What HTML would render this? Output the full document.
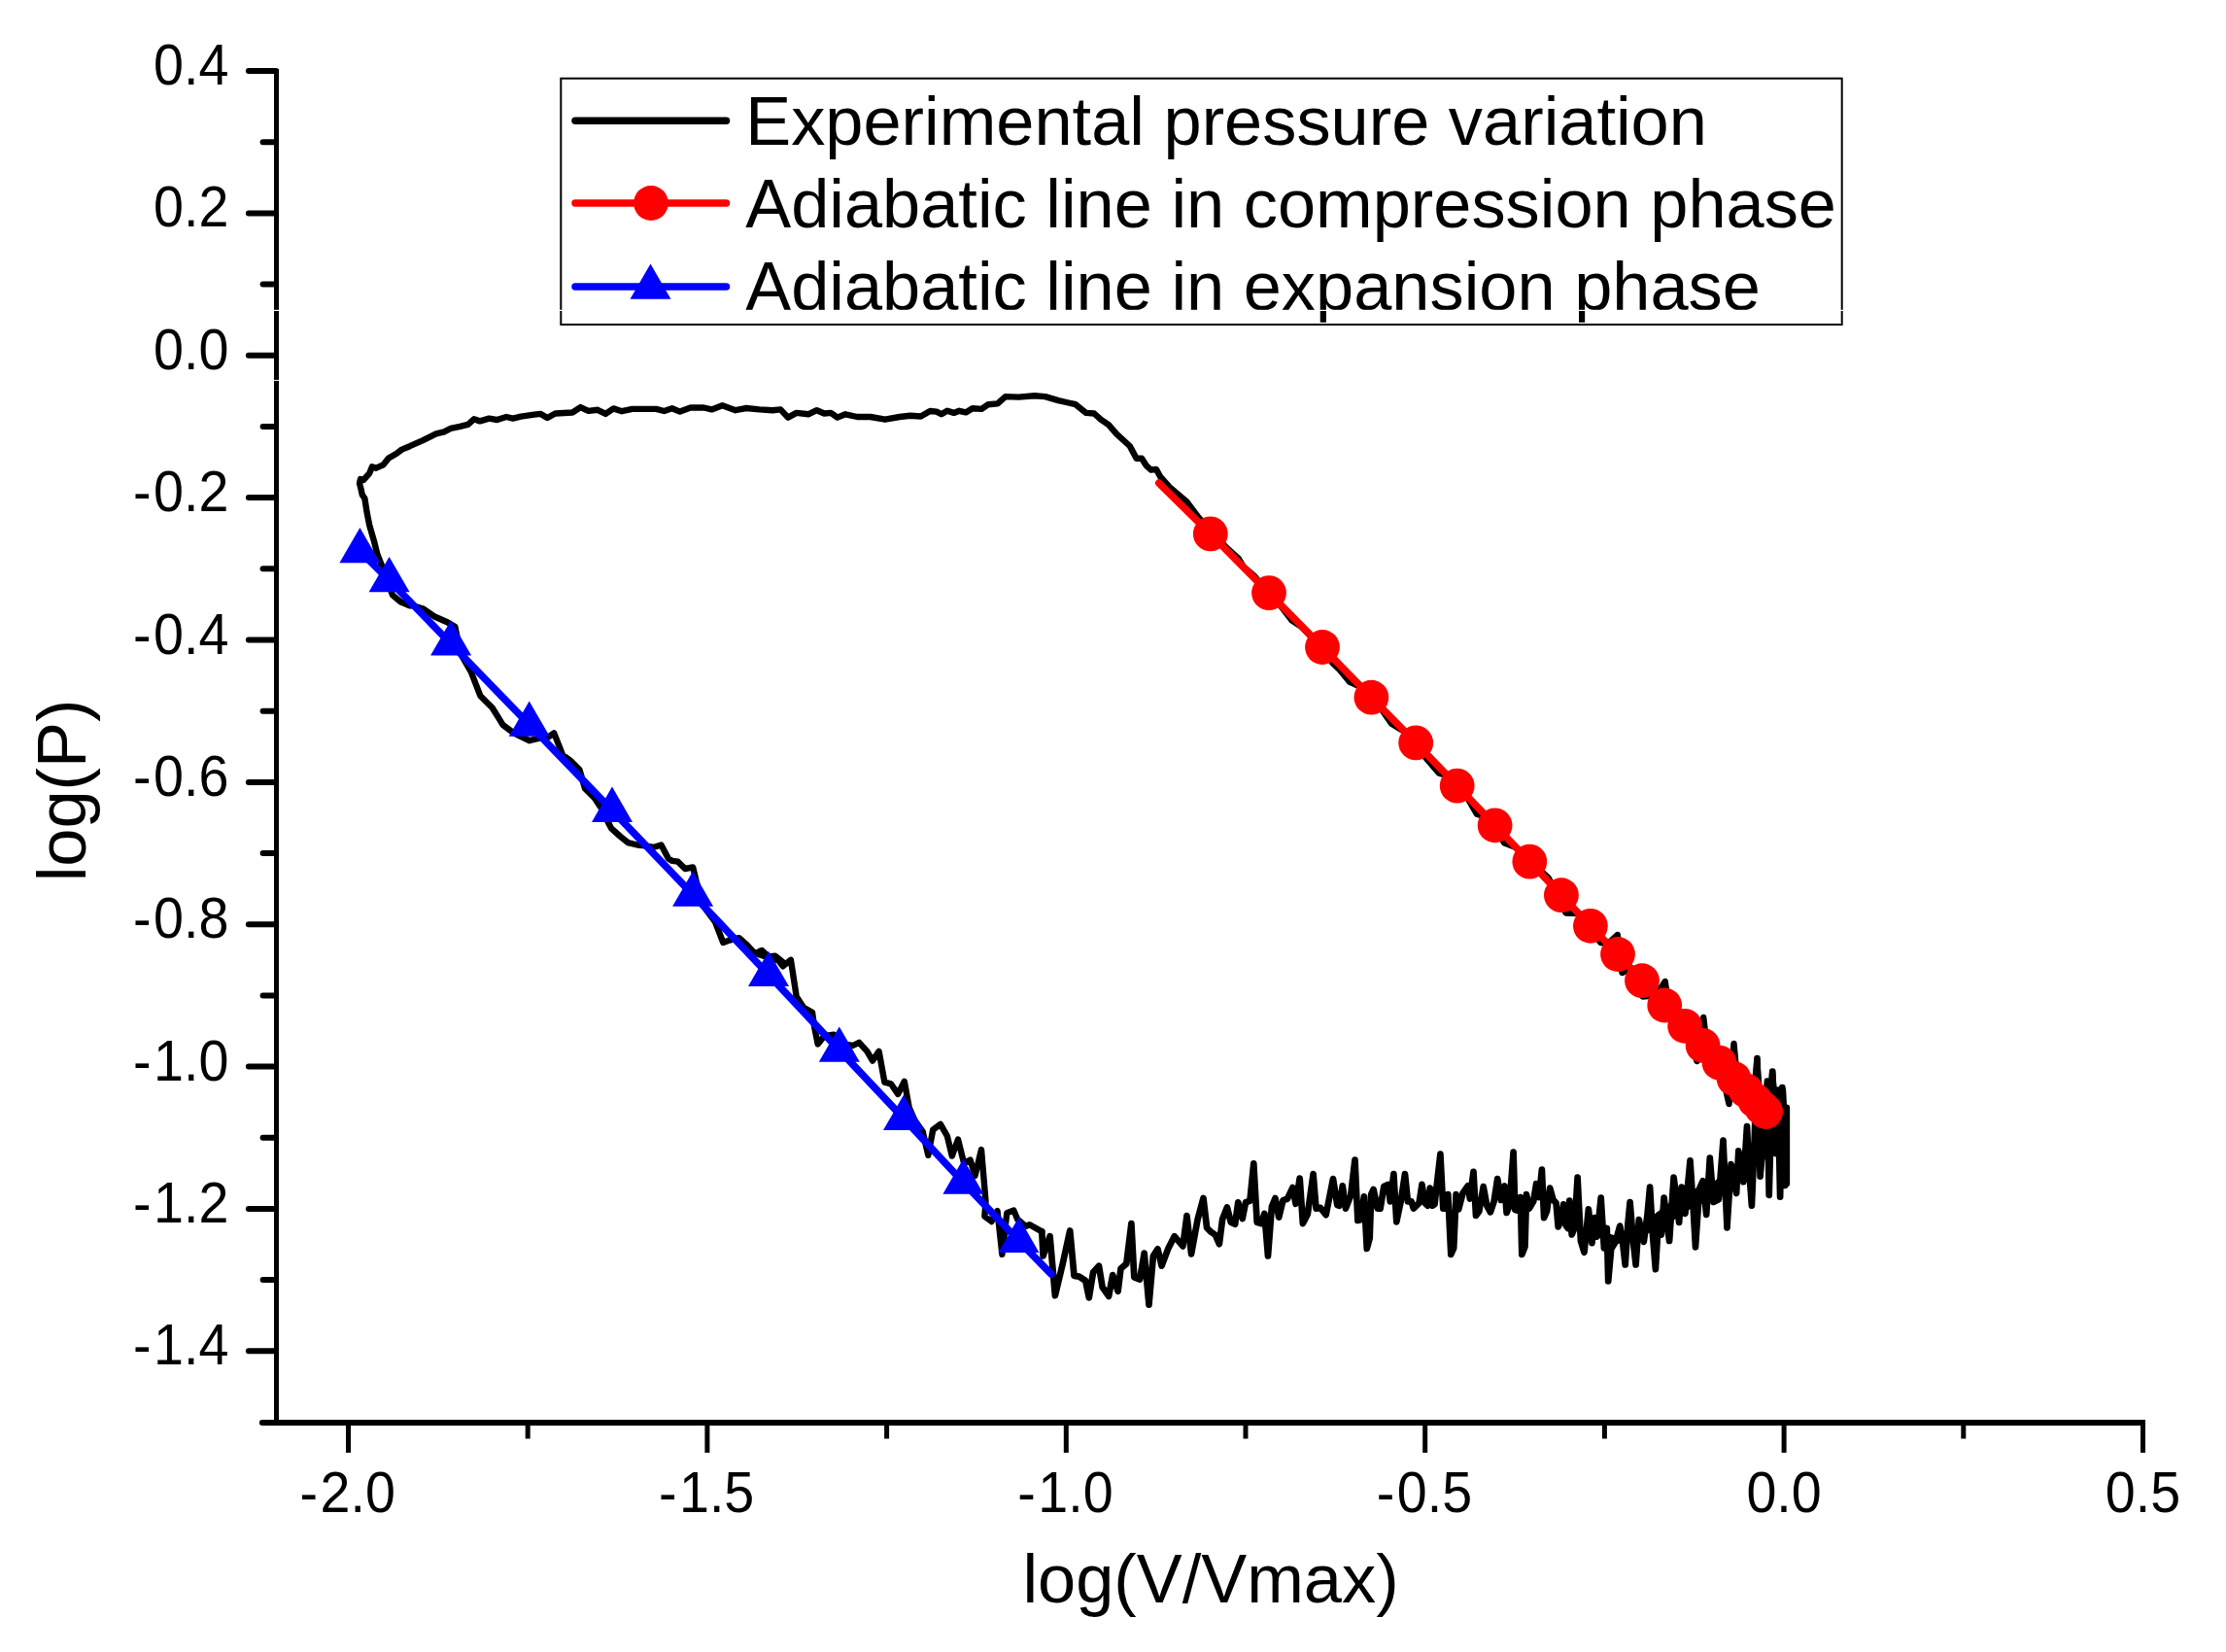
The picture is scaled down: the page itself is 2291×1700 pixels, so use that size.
<!DOCTYPE html>
<html lang="en"><head><meta charset="utf-8"><title>log(P) vs log(V/Vmax)</title>
<style>
html,body{margin:0;padding:0;background:#fff;}
body{width:2291px;height:1700px;overflow:hidden;}
svg{display:block;}
text{font-family:"Liberation Sans",sans-serif;fill:#000;}
.tick{font-size:58.6px;}
.big{font-size:70px;}
</style></head><body>
<svg width="2291" height="1700" viewBox="0 0 2291 1700">
<rect width="2291" height="1700" fill="#fff"/>
<g stroke="#000" fill="none">
<line x1="284.5" y1="71" x2="284.5" y2="1464.0" stroke-width="5"/>
<line x1="269.9" y1="1464.0" x2="2208" y2="1464.0" stroke-width="6"/>
<circle cx="269.9" cy="1464.0" r="3" fill="#000" stroke="none"/>
<g stroke-width="6" stroke-linecap="round">
<line x1="255.9" y1="73.0" x2="284.0" y2="73.0"/>
<line x1="270.6" y1="146.2" x2="284.0" y2="146.2"/>
<line x1="255.9" y1="219.4" x2="284.0" y2="219.4"/>
<line x1="270.6" y1="292.6" x2="284.0" y2="292.6"/>
<line x1="255.9" y1="365.7" x2="284.0" y2="365.7"/>
<line x1="270.6" y1="438.9" x2="284.0" y2="438.9"/>
<line x1="255.9" y1="512.1" x2="284.0" y2="512.1"/>
<line x1="270.6" y1="585.3" x2="284.0" y2="585.3"/>
<line x1="255.9" y1="658.5" x2="284.0" y2="658.5"/>
<line x1="270.6" y1="731.7" x2="284.0" y2="731.7"/>
<line x1="255.9" y1="804.9" x2="284.0" y2="804.9"/>
<line x1="270.6" y1="878.0" x2="284.0" y2="878.0"/>
<line x1="255.9" y1="951.2" x2="284.0" y2="951.2"/>
<line x1="270.6" y1="1024.4" x2="284.0" y2="1024.4"/>
<line x1="255.9" y1="1097.6" x2="284.0" y2="1097.6"/>
<line x1="270.6" y1="1170.8" x2="284.0" y2="1170.8"/>
<line x1="255.9" y1="1244.0" x2="284.0" y2="1244.0"/>
<line x1="270.6" y1="1317.1" x2="284.0" y2="1317.1"/>
<line x1="255.9" y1="1390.3" x2="284.0" y2="1390.3"/>
</g>
<g stroke-width="5">
<line x1="358.5" y1="1464.0" x2="358.5" y2="1494.9"/>
<line x1="543.2" y1="1464.0" x2="543.2" y2="1480.5"/>
<line x1="727.9" y1="1464.0" x2="727.9" y2="1494.9"/>
<line x1="912.6" y1="1464.0" x2="912.6" y2="1480.5"/>
<line x1="1097.3" y1="1464.0" x2="1097.3" y2="1494.9"/>
<line x1="1282.0" y1="1464.0" x2="1282.0" y2="1480.5"/>
<line x1="1466.7" y1="1464.0" x2="1466.7" y2="1494.9"/>
<line x1="1651.4" y1="1464.0" x2="1651.4" y2="1480.5"/>
<line x1="1836.1" y1="1464.0" x2="1836.1" y2="1494.9"/>
<line x1="2020.8" y1="1464.0" x2="2020.8" y2="1480.5"/>
<line x1="2205.5" y1="1464.0" x2="2205.5" y2="1494.9"/>
</g>
</g>
<text class="tick" transform="translate(235.5,87.0) scale(0.95,1)" text-anchor="end">0.4</text>
<text class="tick" transform="translate(235.5,233.4) scale(0.95,1)" text-anchor="end">0.2</text>
<text class="tick" transform="translate(235.5,379.7) scale(0.95,1)" text-anchor="end">0.0</text>
<text class="tick" transform="translate(235.5,526.1) scale(0.95,1)" text-anchor="end" dx="0 2.6">-0.2</text>
<text class="tick" transform="translate(235.5,672.5) scale(0.95,1)" text-anchor="end" dx="0 2.6">-0.4</text>
<text class="tick" transform="translate(235.5,818.9) scale(0.95,1)" text-anchor="end" dx="0 2.6">-0.6</text>
<text class="tick" transform="translate(235.5,965.2) scale(0.95,1)" text-anchor="end" dx="0 2.6">-0.8</text>
<text class="tick" transform="translate(235.5,1111.6) scale(0.95,1)" text-anchor="end" dx="0 2.6">-1.0</text>
<text class="tick" transform="translate(235.5,1258.0) scale(0.95,1)" text-anchor="end" dx="0 2.6">-1.2</text>
<text class="tick" transform="translate(235.5,1404.3) scale(0.95,1)" text-anchor="end" dx="0 2.6">-1.4</text>
<text class="tick" transform="translate(357.7,1556.2) scale(0.95,1)" text-anchor="middle" dx="0 2.6">-2.0</text>
<text class="tick" transform="translate(727.1,1556.2) scale(0.95,1)" text-anchor="middle" dx="0 2.6">-1.5</text>
<text class="tick" transform="translate(1096.5,1556.2) scale(0.95,1)" text-anchor="middle" dx="0 2.6">-1.0</text>
<text class="tick" transform="translate(1465.9,1556.2) scale(0.95,1)" text-anchor="middle" dx="0 2.6">-0.5</text>
<text class="tick" transform="translate(1836.1,1556.2) scale(0.95,1)" text-anchor="middle">0.0</text>
<text class="tick" transform="translate(2205.5,1556.2) scale(0.95,1)" text-anchor="middle">0.5</text>
<text class="big" transform="translate(1246.0,1648.8) scale(1.0055,1)" text-anchor="middle">log(V/Vmax)</text>
<text class="big" transform="translate(88.4,813.5) rotate(-90) scale(1.0055,1)" text-anchor="middle">log(P)</text>
<g fill="none" stroke="#000" stroke-linejoin="round" stroke-linecap="round">
<polyline stroke-width="6.4" points="1837.0,1160.0 1835.0,1122.0 1828.0,1150.0 1824.0,1104.0 1819.0,1165.0 1812.2,1139.8 1808.2,1092.0 1803.0,1150.0 1800.1,1125.9 1788.3,1114.7 1784.5,1074.0 1779.5,1136.0 1770.0,1094.0 1757.3,1081.7 1753.2,1047.0 1746.5,1092.0 1734.9,1056.1 1718.1,1039.9 1713.7,1010.0 1704.7,1024.3 1690.5,1025.5 1679.6,996.4 1669.5,1001.0 1664.7,962.0 1654.9,971.1 1647.4,970.1 1624.9,940.0 1611.5,939.5 1600.4,915.6 1593.4,903.1 1579.5,890.5 1560.1,871.9 1548.5,867.6 1530.1,840.9 1519.9,837.7 1510.5,821.5 1489.9,798.1 1481.0,795.6 1467.5,780.0 1445.2,752.8 1432.3,744.8 1420.3,727.7 1400.2,706.8 1389.2,701.9 1378.5,689.0 1371.2,681.9 1361.4,667.6 1340.3,645.7 1329.8,638.7 1318.3,623.7 1300.0,604.0 1291.4,593.2 1279.8,583.2 1274.6,574.7 1261.3,562.7 1233.5,532.5 1221.3,516.2 1203.6,501.2 1194.0,490.3 1190.0,482.9 1184.5,483.5 1180.0,479.4 1175.1,471.8 1169.6,471.8 1162.8,459.0 1149.2,446.7 1141.0,437.2 1132.9,431.7 1126.1,425.5 1117.9,424.9 1107.0,416.2 1097.5,414.0 1089.3,412.1 1075.7,408.1 1064.8,407.2 1048.4,408.6 1034.8,408.1 1026.7,415.4 1017.1,416.2 1010.3,420.9 1000.8,420.3 994.0,424.4 987.2,422.8 981.7,424.9 974.9,422.8 968.9,426.3 964.0,423.6 957.2,423.0 947.7,428.5 936.8,427.7 925.9,429.0 910.9,431.7 895.9,429.0 882.3,429.0 870.1,426.3 861.9,429.6 855.1,424.9 848.3,425.5 840.6,422.2 831.9,426.3 819.7,424.9 811.0,429.6 803.3,421.4 795.2,422.2 781.5,421.4 767.9,420.0 757.0,422.2 743.4,417.3 732.5,421.4 724.3,419.5 710.7,419.5 699.8,423.6 691.7,420.3 683.5,423.0 675.3,420.9 650.8,420.9 640.0,423.2 631.4,420.4 623.3,425.9 615.1,421.8 605.6,422.9 597.4,419.1 589.2,424.5 571.5,425.5 563.3,430.0 556.5,425.9 549.7,426.6 536.1,428.6 527.9,430.6 521.1,429.0 511.6,432.0 503.4,430.6 493.9,433.4 487.8,431.3 481.6,436.8 473.5,438.8 463.9,440.9 457.1,444.3 448.9,446.3 435.3,453.1 421.7,459.2 413.5,462.6 408.1,466.7 399.9,471.5 394.5,478.3 387.0,481.7 382.9,480.3 380.2,487.2 374.0,494.0 371.0,493.0 370.0,497.4 371.6,503.5 372.7,508.9 375.4,513.0 377.5,526.7 380.2,540.3 384.9,556.6 388.3,570.2 393.1,582.5 398.6,597.5 404.0,612.4 412.2,619.3 421.7,623.3 424.9,623.3 435.8,626.6 446.7,634.2 460.3,640.2 468.4,645.1 473.9,672.4 484.8,691.4 494.3,715.9 506.6,728.2 517.5,745.9 528.4,754.1 544.7,762.2 558.3,759.0 564.5,758.4 570.2,754.3 579.2,777.2 587.4,782.9 596.4,791.9 602.1,811.5 611.9,821.3 618.4,831.1 626.6,847.5 629.1,852.4 638.1,860.5 646.2,867.1 656.0,869.5 664.2,870.4 672.4,872.0 680.5,869.5 687.9,883.4 692.0,885.9 697.7,886.7 705.1,894.0 713.2,892.4 716.5,906.3 721.4,924.3 726.3,935.7 736.1,948.8 744.3,970.0 750.8,967.6 760.6,965.1 768.8,972.5 777.0,981.5 783.5,978.2 790.0,984.7 798.2,983.9 805.6,990.0 778.0,981.2 784.2,978.0 791.1,984.5 797.6,983.7 805.8,994.3 813.9,987.8 819.7,1025.4 827.0,1036.8 836.0,1041.7 838.4,1058.1 841.7,1074.4 848.2,1066.2 858.1,1064.6 867.9,1074.4 877.7,1076.0 884.2,1072.8 892.4,1081.8 898.1,1091.6 904.6,1081.8 910.4,1113.6 916.9,1115.3 924.2,1125.9 930.8,1112.8 935.7,1139.8 941.4,1152.8 949.6,1164.3 955.3,1188.8 960.2,1162.6 967.9,1156.9 974.9,1169.2 979.8,1189.6 986.0,1172.5 992.1,1197.0 998.6,1193.7 1003.5,1210.0 1010.0,1183.1 1014.5,1236.3 1013.4,1251.6 1020.5,1257.0 1026.5,1246.1 1031.4,1290.8 1036.3,1248.3 1043.4,1245.6 1047.2,1254.8 1055.9,1261.9 1059.7,1260.3 1072.3,1267.4"/>
<polyline stroke-width="6.7" points="1072.3,1267.4 1073.6,1292.5 1076.5,1283.8 1080.6,1272.2 1085.9,1333.2 1093.9,1299.8 1101.2,1266.4 1105.5,1312.9 1110.6,1313.6 1117.2,1317.9 1120.8,1335.4 1125.1,1309.2 1131.0,1302.7 1134.6,1324.5 1141.1,1333.9 1145.2,1312.1 1150.6,1328.8 1153.5,1305.6 1159.3,1300.5 1164.4,1259.1 1167.3,1314.3 1173.1,1316.5 1177.7,1289.6 1182.5,1342.6 1186.9,1292.5 1191.5,1285.3 1195.6,1302.7 1202.1,1285.3 1208.7,1272.2 1217.4,1282.4 1221.5,1251.1 1226.1,1290.3 1232.6,1254.8 1238.5,1233.0 1242.1,1263.5 1246.4,1267.8 1250.8,1270.7 1254.9,1280.2 1258.1,1254.8 1262.9,1242.4 1266.8,1257.7 1271.1,1259.8 1274.3,1237.3 1278.7,1254.0 1282.0,1237.3 1286.4,1235.9 1290.3,1197.4 1293.7,1257.7 1298.0,1259.1 1301.4,1248.9 1305.0,1292.5 1308.9,1241.7 1312.5,1233.0 1316.2,1252.6 1320.5,1235.1 1324.9,1233.7 1330.4,1222.1 1333.6,1238.8 1337.7,1212.6 1340.9,1259.1 1345.8,1249.5 1351.6,1208.1 1354.5,1243.6 1358.9,1242.9 1364.7,1250.2 1372.0,1213.1 1376.3,1240.0 1378.5,1240.7 1381.8,1220.4 1385.0,1243.6 1390.1,1230.6 1394.5,1193.5 1397.4,1256.0 1400.3,1255.3 1403.9,1231.3 1406.8,1285.0 1409.7,1274.1 1411.2,1229.1 1413.6,1224.0 1417.7,1243.6 1420.6,1243.6 1424.3,1221.1 1428.6,1218.9 1430.8,1236.4 1434.4,1208.1 1437.3,1257.4 1441.7,1236.4 1446.0,1208.1 1448.9,1236.4 1452.6,1236.4 1454.8,1243.6 1460.6,1237.8 1463.5,1218.9 1466.4,1237.8 1469.3,1240.7 1471.8,1222.6 1474.4,1240.7 1476.5,1239.3 1482.4,1187.7 1485.3,1243.6 1488.2,1243.6 1490.3,1229.1 1493.3,1290.9 1496.2,1284.3 1498.6,1229.1 1501.2,1244.4 1505.6,1227.7 1510.7,1220.4 1512.9,1233.5 1516.5,1205.9 1519.0,1250.9 1522.3,1246.5 1526.7,1221.1 1530.3,1240.7 1533.9,1247.3 1537.6,1236.4 1541.2,1213.1 1544.8,1234.9 1548.5,1220.4 1550.6,1248.0 1553.5,1240.7 1557.6,1185.5 1559.3,1245.1 1562.3,1245.8 1564.9,1232.0 1566.3,1290.9 1569.5,1282.9 1571.0,1229.1 1573.9,1243.6 1578.2,1236.4 1581.1,1218.2 1584.0,1232.0 1586.9,1203.7 1589.1,1253.1 1592.0,1246.5 1595.2,1222.6 1598.6,1234.9 1601.5,1237.8 1603.7,1262.5 1606.6,1255.3 1609.2,1239.3 1611.6,1261.1 1613.8,1264.0 1615.3,1235.7 1617.7,1270.5 1620.4,1264.0 1623.6,1211.7 1626.9,1277.1 1630.5,1288.7 1634.9,1244.4 1638.5,1279.2 1641.4,1253.1 1643.6,1272.7 1647.7,1232.7 1650.9,1284.3 1653.8,1264.0 1655.2,1318.5 1658.2,1285.2 1662.7,1277.9 1667.2,1261.6 1670.0,1277.9 1672.7,1301.5 1675.4,1259.7 1677.6,1237.0 1680.9,1277.9 1683.6,1301.5 1686.8,1255.2 1691.8,1277.9 1695.4,1250.7 1698.1,1221.6 1700.8,1268.8 1703.9,1306.1 1707.2,1250.7 1709.9,1270.6 1712.6,1232.5 1718.1,1277.0 1722.6,1211.6 1725.3,1232.5 1728.1,1257.9 1730.8,1221.6 1734.4,1248.9 1739.5,1194.4 1742.6,1241.6 1745.0,1283.4 1749.0,1223.4 1752.6,1215.3 1756.2,1249.8 1759.8,1191.7 1763.5,1237.0 1768.9,1234.3 1773.5,1173.5 1777.5,1263.4 1781.6,1198.0 1787.1,1228.0 1789.3,1184.4 1794.3,1216.2 1798.0,1159.0 1799.8,1198.0 1802.9,1240.7 1805.6,1176.2 1808.5,1089.1 1811.6,1210.7 1815.2,1169.0 1818.9,1112.7 1820.7,1229.8 1824.3,1102.7 1827.9,1187.1 1829.8,1121.7 1832.1,1231.6 1834.3,1119.0 1837.0,1219.8 1838.8,1139.9 1838.8,1218.0"/>
<polyline stroke-width="17" points="1709.0,1255.2 1730.8,1238.9 1752.6,1228.9 1768.0,1223.4 1786.2,1209.3 1798.0,1198.0 1810.7,1187.1 1821.6,1176.2"/>
<polyline stroke-width="9" points="1650.9,1272.5 1661.8,1276.1 1676.3,1273.4 1694.5,1265.2 1709.0,1255.2"/>
</g>
<polyline fill="none" stroke="#ff0000" stroke-width="7.5" stroke-linecap="round" stroke-linejoin="round" points="1192.7,497.1 1245.8,549.4 1306.0,610.1 1361.0,666.0 1411.4,717.7 1457.2,764.4 1499.7,808.6 1538.6,849.3 1574.3,886.6 1606.9,921.2 1636.9,952.8 1665.0,982.0 1690.0,1009.2 1713.2,1034.5 1734.1,1055.8 1752.6,1075.9 1769.5,1093.6 1784.5,1110.0 1796.8,1122.2 1806.3,1132.6 1813.1,1139.9 1817.2,1144.0"/>
<g fill="#ff0000">
<circle cx="1245.8" cy="549.4" r="17.9"/>
<circle cx="1306.0" cy="610.1" r="17.9"/>
<circle cx="1361.0" cy="666.0" r="17.9"/>
<circle cx="1411.4" cy="717.7" r="17.9"/>
<circle cx="1457.2" cy="764.4" r="17.9"/>
<circle cx="1499.7" cy="808.6" r="17.9"/>
<circle cx="1538.6" cy="849.3" r="17.9"/>
<circle cx="1574.3" cy="886.6" r="17.9"/>
<circle cx="1606.9" cy="921.2" r="17.9"/>
<circle cx="1636.9" cy="952.8" r="17.9"/>
<circle cx="1665.0" cy="982.0" r="17.9"/>
<circle cx="1690.0" cy="1009.2" r="17.9"/>
<circle cx="1713.2" cy="1034.5" r="17.9"/>
<circle cx="1734.1" cy="1055.8" r="17.9"/>
<circle cx="1752.6" cy="1075.9" r="17.9"/>
<circle cx="1769.5" cy="1093.6" r="17.9"/>
<circle cx="1784.5" cy="1110.0" r="17.9"/>
<circle cx="1796.8" cy="1122.2" r="17.9"/>
<circle cx="1806.3" cy="1132.6" r="17.9"/>
<circle cx="1813.1" cy="1139.9" r="17.9"/>
<circle cx="1817.2" cy="1144.0" r="17.9"/>
</g>
<polyline fill="none" stroke="#0000ff" stroke-width="7.5" stroke-linecap="round" stroke-linejoin="round" points="370.4,567.2 400.6,597.2 464.1,662.5 544.7,745.6 630.0,833.8 713.1,920.7 791.0,1003.0 863.8,1080.6 930.0,1150.9 991.4,1216.7 1048.5,1276.8 1081.9,1311.2"/>
<g fill="#0000ff">
<polygon points="370.4,543.0 349.4,579.3 391.4,579.3"/>
<polygon points="400.6,573.0 379.6,609.3 421.6,609.3"/>
<polygon points="464.1,638.3 443.1,674.6 485.1,674.6"/>
<polygon points="544.7,721.4 523.7,757.7 565.7,757.7"/>
<polygon points="630.0,809.6 609.0,845.9 651.0,845.9"/>
<polygon points="713.1,896.5 692.1,932.8 734.1,932.8"/>
<polygon points="791.0,978.8 770.0,1015.1 812.0,1015.1"/>
<polygon points="863.8,1056.4 842.8,1092.7 884.8,1092.7"/>
<polygon points="930.0,1126.7 909.0,1163.0 951.0,1163.0"/>
<polygon points="991.4,1192.5 970.4,1228.8 1012.4,1228.8"/>
<polygon points="1048.5,1252.6 1027.5,1288.9 1069.5,1288.9"/>
</g>
<rect x="577.3" y="80.7" width="1318.4" height="253.3" fill="#fff" stroke="#000" stroke-width="2"/>
<g fill="none" stroke-width="7.5" stroke-linecap="round">
<line x1="592" y1="124.2" x2="747.5" y2="124.2" stroke="#000"/>
<line x1="592" y1="209" x2="747.5" y2="209" stroke="#ff0000"/>
<line x1="592" y1="294.9" x2="747.5" y2="294.9" stroke="#0000ff"/>
</g>
<circle cx="670" cy="209" r="17.9" fill="#ff0000"/>
<g fill="#0000ff"><polygon points="669.5,271.4 648.5,307.7 690.5,307.7"/></g>
<text class="big" transform="translate(767.2,149) scale(1.0055,1)">Experimental pressure variation</text>
<text class="big" transform="translate(767.2,234) scale(1.0055,1)">Adiabatic line in compression phase</text>
<text class="big" transform="translate(767.2,319) scale(1.0055,1)">Adiabatic line in expansion phase</text>
<rect x="579" y="331.8" width="1315.5" height="1.2" fill="#fff"/>
<rect x="0" y="318.8" width="2291" height="1.2" fill="#fff"/>
<rect x="0" y="390.9" width="2291" height="1" fill="#fff"/>
</svg>
</body></html>
